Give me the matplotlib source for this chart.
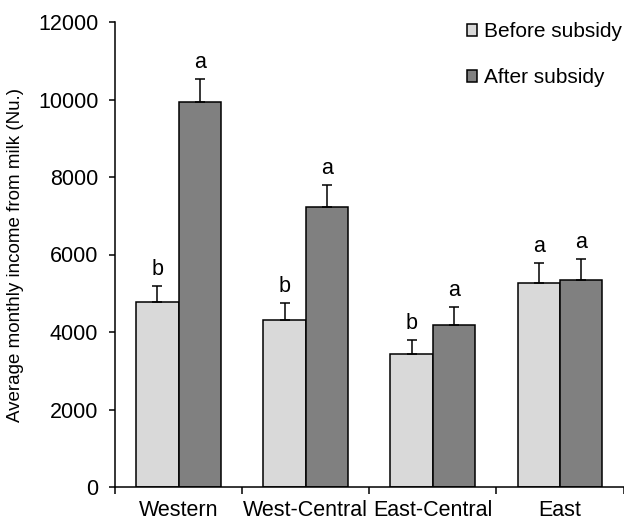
import matplotlib.pyplot as plt
from matplotlib.patches import Patch
import numpy as np

plt.rcParams['font.family'] = ['Liberation Sans', 'DejaVu Sans']

# data
regions = ['Western', 'West-Central', 'East-Central', 'East']
before = [4780, 4310, 3430, 5260]
after = [9940, 7220, 4170, 5330]
before_err = [410, 430, 360, 530]
after_err = [590, 575, 480, 560]
before_letters = ['b', 'b', 'b', 'a']
after_letters = ['a', 'a', 'a', 'a']

light = '#D9D9D9'
dark = '#808080'

fig = plt.figure(figsize=(6.24, 5.2), dpi=100)
ax = fig.add_axes([115 / 624, 33 / 520, 508.5 / 624, 465 / 520])

x = np.arange(len(regions))
w = 1 / 3
ax.bar(x - w / 2, before, w, color=light, edgecolor='black', linewidth=1.1, zorder=2)
ax.bar(x + w / 2, after, w, color=dark, edgecolor='black', linewidth=1.1, zorder=2)

ax.errorbar(x - w / 2, before, yerr=[np.zeros(4), before_err], fmt='none',
            ecolor='black', elinewidth=1.1, capsize=3.3, capthick=1.1, zorder=3)
ax.errorbar(x + w / 2, after, yerr=[np.zeros(4), after_err], fmt='none',
            ecolor='black', elinewidth=1.1, capsize=3.3, capthick=1.1, zorder=3)

# significance letters
for i in range(len(regions)):
    ax.annotate(before_letters[i], (x[i] - w / 2, before[i] + before_err[i]),
                xytext=(0, 8), textcoords='offset points', ha='center',
                va='baseline', fontsize=15.5)
    ax.annotate(after_letters[i], (x[i] + w / 2, after[i] + after_err[i]),
                xytext=(0, 8), textcoords='offset points', ha='center',
                va='baseline', fontsize=15.5)

ax.set_xlim(-0.5, 3.5)
ax.set_ylim(0, 12000)
ax.set_yticks(range(0, 12001, 2000))
ax.set_xticks([-0.5, 0.5, 1.5, 2.5, 3.5])
ax.set_xticklabels([])
ax.set_xticks(x, minor=True)
ax.set_xticklabels(regions, minor=True, fontsize=15.5)
ax.tick_params(axis='x', which='major', length=5, width=1.1, direction='out')
ax.tick_params(axis='x', which='minor', length=0, pad=9)
ax.tick_params(axis='y', length=4, width=1.1, direction='out', pad=8, labelsize=15.5)

for s in ['top', 'right']:
    ax.spines[s].set_visible(False)
for s in ['left', 'bottom']:
    ax.spines[s].set_linewidth(1.1)

ax.set_ylabel('Average monthly income from milk (Nu.)', fontsize=13.5, labelpad=10)

handles = [Patch(facecolor=light, edgecolor='black', linewidth=1.1),
           Patch(facecolor=dark, edgecolor='black', linewidth=1.1)]
fig.legend(handles, ['Before subsidy', 'After subsidy'], loc='upper left',
           bbox_to_anchor=(467 / 624, 1 - 22 / 520), frameon=False,
           fontsize=15, handlelength=0.5, handleheight=0.5,
           handletextpad=0.3, labelspacing=1.3, borderaxespad=0, borderpad=0)

fig.savefig('out.png', dpi=100)
